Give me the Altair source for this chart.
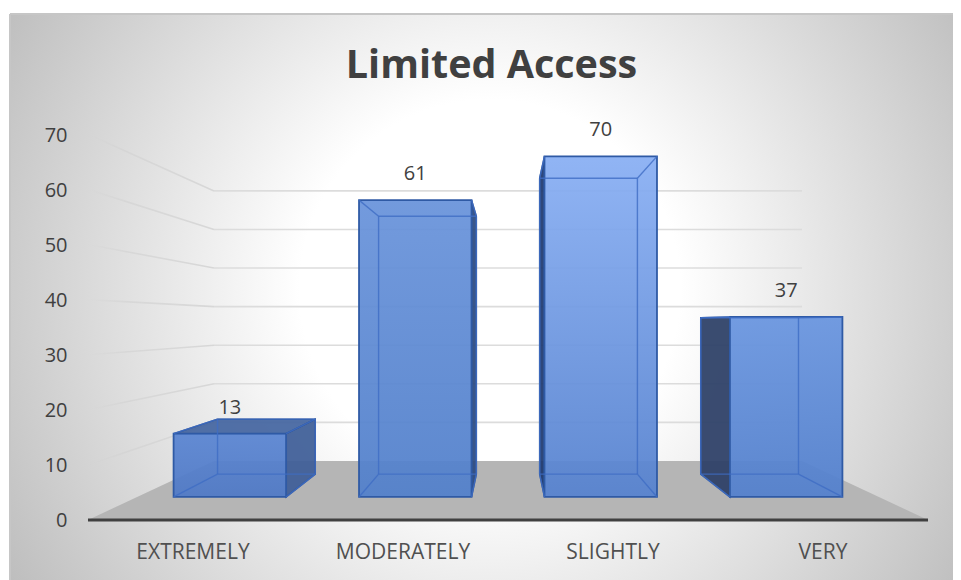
import altair as alt
import pandas as pd

# ---- chart values ----
categories = ["EXTREMELY", "MODERATELY", "SLIGHTLY", "VERY"]
values = [13, 61, 70, 37]
ticks = [0, 10, 20, 30, 40, 50, 60, 70]
title = "Limited Access"

# ---- 3D perspective model (value units / category units) ----
VP_X, VP_V = 2.0, 35.75   # vanishing point
S_FLOOR_FRONT, S_BAR_FRONT, S_BAR_BACK, S_WALL = 1.0, 0.883, 0.767, 0.70
HALF = 0.3034             # half bar width, in category units


def px(x, s):
    return VP_X + (x - VP_X) * s


def pv(v, s):
    return VP_V + (v - VP_V) * s


X_DOMAIN = [-0.3714, 4.119]
Y_DOMAIN = [-10.89, 91.83]
W, H = 943, 566

xs = alt.Scale(domain=X_DOMAIN, nice=False, zero=False)
ys = alt.Scale(domain=Y_DOMAIN, nice=False, zero=False)
y_axis = alt.Axis(
    values=ticks, offset=-57, labelPadding=0, labelOffset=1, ticks=False, domain=False,
    grid=False, title=None, labelFont="Open Sans", labelFontSize=20, labelColor="#404040",
    zindex=1)
X = alt.X("x:Q", scale=xs, axis=None)
Y = alt.Y("y:Q", scale=ys, axis=y_axis)


def vert_layer(df, **mark):
    return alt.Chart(df).mark_area(**mark).encode(
        x=X, y=Y, y2=alt.Y2("y2"), detail="id:N")


def horiz_layer(df, **mark):
    return alt.Chart(df).mark_area(orient="horizontal", **mark).encode(
        y=Y, x=X, x2=alt.X2("x2"), detail="id:N")


# background
bg_grad = alt.RadialGradient(
    gradient="radial", x1=0.5, y1=0.5, r1=0, x2=0.5, y2=0.5, r2=0.5,
    stops=[alt.GradientStop(color="#ffffff", offset=0),
           alt.GradientStop(color="#ffffff", offset=0.34),
           alt.GradientStop(color="#bebebe", offset=1)])
one = pd.DataFrame({"a": [0]})
background = alt.Chart(one).mark_rect(fill=bg_grad, clip=True).encode(
    x=alt.value(-80), x2=alt.value(1040), y=alt.value(-284), y2=alt.value(836))
border_top = alt.Chart(one).mark_rule(color="#c6c6c6", strokeWidth=2).encode(
    x=alt.value(0), x2=alt.value(W), y=alt.value(0))
border_left = alt.Chart(one).mark_rule(color="#c6c6c6", strokeWidth=2).encode(
    y=alt.value(0), y2=alt.value(H), x=alt.value(0))

# gridlines
grid_rows, side_rows = [], []
for t in ticks[1:]:
    for x in (0.0, 4.0):
        grid_rows.append({"id": t, "x": px(x, S_WALL), "y": pv(t, S_WALL)})
    side_rows.append({"id": t, "x": px(0.0, S_WALL), "y": pv(t, S_WALL)})
    side_rows.append({"id": t, "x": px(0.0, S_FLOOR_FRONT), "y": pv(t, S_FLOOR_FRONT)})
grid = alt.Chart(pd.DataFrame(grid_rows)).mark_line(color="#dcdcdc", strokeWidth=1.6).encode(
    x=X, y=Y, detail="id:N")
fade = alt.LinearGradient(
    gradient="linear", x1=0, x2=1, y1=0, y2=0,
    stops=[alt.GradientStop(color="rgba(208,208,208,0)", offset=0),
           alt.GradientStop(color="rgba(208,208,208,0.55)", offset=0.3),
           alt.GradientStop(color="rgba(215,215,215,1)", offset=1)])
side_grid = [
    alt.Chart(pd.DataFrame([r for r in side_rows if r["id"] == t]))
    .mark_line(stroke=fade, strokeWidth=1.6).encode(x=X, y=Y)
    for t in ticks[1:]
]

# floor
floor_df = pd.DataFrame([
    {"id": 0, "y": pv(0, S_WALL), "x": px(0.0, S_WALL), "x2": px(4.0, S_WALL)},
    {"id": 0, "y": pv(0, S_FLOOR_FRONT), "x": px(0.0, S_FLOOR_FRONT), "x2": px(4.0, S_FLOOR_FRONT)},
])
floor = horiz_layer(floor_df, color="#b5b5b5")

axis_line = alt.Chart(pd.DataFrame({"x": [0.0], "x2": [4.0], "y": [0]})).mark_rule(
    color="#404040", strokeWidth=3.2).encode(x=X, x2="x2:Q", y=Y)

# bars
EDGE = "#3f6dc4"
DARK_EDGE = "#2f5597"
FRONT_COLORS = [("#5a85d2", "#4f79c6"), ("#6a94db", "#5280cb"),
                ("#8ab0f4", "#5682cf"), ("#6a96e0", "#5380cd")]
OUTER_COLORS = ["#3f5f98", "#2c4a80", "#1f3a70", "#2d3f66"]

bar_layers = []
back, inner_side, inner_hz, outer_hz = [], [], [], []
outer_side_layers = []
for i, v in enumerate(values):
    c = i + 0.5
    xl, xr = c - HALF, c + HALF
    f, b = S_BAR_FRONT, S_BAR_BACK
    back += [{"id": i, "x": px(xl, b), "y": pv(v, b), "y2": pv(0, b)},
             {"id": i, "x": px(xr, b), "y": pv(v, b), "y2": pv(0, b)}]
    for side, xe in (("l", xl), ("r", xr)):
        seen = (side == "l" and xe > VP_X) or (side == "r" and xe < VP_X)
        rows = [{"id": f"{i}{side}", "x": px(xe, f), "y": pv(v, f), "y2": pv(0, f)},
                {"id": f"{i}{side}", "x": px(xe, b), "y": pv(v, b), "y2": pv(0, b)}]
        if seen:
            outer_side_layers.append(vert_layer(pd.DataFrame(rows), fill=OUTER_COLORS[i],
                                                fillOpacity=0.93, stroke=DARK_EDGE, strokeWidth=1.5))
        else:
            inner_side.extend(rows)
    for name, lev in (("b", 0), ("t", v)):
        rows = [{"id": f"{i}{name}", "y": pv(lev, f), "x": px(xl, f), "x2": px(xr, f)},
                {"id": f"{i}{name}", "y": pv(lev, b), "x": px(xl, b), "x2": px(xr, b)}]
        seen = name == "t" and lev < VP_V
        (outer_hz if seen else inner_hz).extend(rows)

bar_layers.append(vert_layer(pd.DataFrame(back), color="#4472c4", opacity=0.12))
bar_layers.append(vert_layer(pd.DataFrame(inner_side), color="#4472c4", opacity=0.12))
bar_layers.append(horiz_layer(pd.DataFrame(inner_hz), color="#4472c4", opacity=0.12))
bar_layers.extend(outer_side_layers)
bar_layers.append(horiz_layer(pd.DataFrame(outer_hz), fill="#41639f", fillOpacity=0.9,
                              stroke=DARK_EDGE, strokeWidth=1.5))

inner_edges = []
for i, v in enumerate(values):
    c = i + 0.5
    xl, xr = c - HALF, c + HALF
    top_col, bot_col = FRONT_COLORS[i]
    grad = alt.LinearGradient(
        gradient="linear", x1=0, x2=0, y1=0, y2=1,
        stops=[alt.GradientStop(color=top_col, offset=0),
               alt.GradientStop(color=bot_col, offset=1)])
    df = pd.DataFrame([
        {"id": i, "x": px(xl, S_BAR_FRONT), "y": pv(v, S_BAR_FRONT), "y2": pv(0, S_BAR_FRONT)},
        {"id": i, "x": px(xr, S_BAR_FRONT), "y": pv(v, S_BAR_FRONT), "y2": pv(0, S_BAR_FRONT)},
    ])
    bar_layers.append(vert_layer(df, fill=grad, fillOpacity=0.93, stroke="#2f5aa5", strokeWidth=1.8))

    b = S_BAR_BACK
    f = S_BAR_FRONT
    edge_rows = [
        (px(xl, b), pv(v, b), px(xr, b), pv(v, b)),
        (px(xl, b), pv(0, b), px(xr, b), pv(0, b)),
        (px(xl, b), pv(v, b), px(xl, b), pv(0, b)),
        (px(xr, b), pv(v, b), px(xr, b), pv(0, b)),
        (px(xl, f), pv(v, f), px(xl, b), pv(v, b)),
        (px(xr, f), pv(v, f), px(xr, b), pv(v, b)),
        (px(xl, f), pv(0, f), px(xl, b), pv(0, b)),
        (px(xr, f), pv(0, f), px(xr, b), pv(0, b)),
    ]
    for k, (x0, y0, x1, y1) in enumerate(edge_rows):
        inner_edges.append({"id": f"{i}-{k}", "x": x0, "y": y0})
        inner_edges.append({"id": f"{i}-{k}", "x": x1, "y": y1})

edges = alt.Chart(pd.DataFrame(inner_edges)).mark_line(
    color=EDGE, strokeWidth=1.4, opacity=0.8).encode(x=X, y=Y, detail="id:N")

# data labels
lab_df = pd.DataFrame({
    "x": [px(i + 0.5, S_BAR_FRONT) for i in range(4)],
    "y": [pv(v, S_BAR_FRONT) for v in values],
    "t": [str(v) for v in values],
})
data_labels = alt.Chart(lab_df).mark_text(
    font="Open Sans", fontSize=20, color="#404040", dy=-26, baseline="middle"
).encode(x=X, y=Y, text="t:N")

# category labels
cat_df = pd.DataFrame({"x": [i + 0.5 for i in range(4)], "y": [-5.9] * 4, "t": categories})
cat_labels = alt.Chart(cat_df).mark_text(
    font="Open Sans", fontSize=21, color="#505050", baseline="middle"
).encode(x=X, y=Y, text="t:N")

chart = alt.layer(
    background, border_top, border_left, grid, *side_grid, floor, axis_line,
    *bar_layers, edges, data_labels, cat_labels,
).properties(
    width=W, height=H,
    padding={"left": 2, "top": 6, "right": 0, "bottom": 0},
    autosize=alt.AutoSizeParams(type="none"),
    title=alt.TitleParams(title, font="Open Sans", fontSize=39.5, fontWeight="bold",
                          color="#404040", anchor="middle", dx=10, dy=77),
).configure_view(stroke=None)

chart.save("out.html", embed_options={"renderer": "svg", "actions": False})
